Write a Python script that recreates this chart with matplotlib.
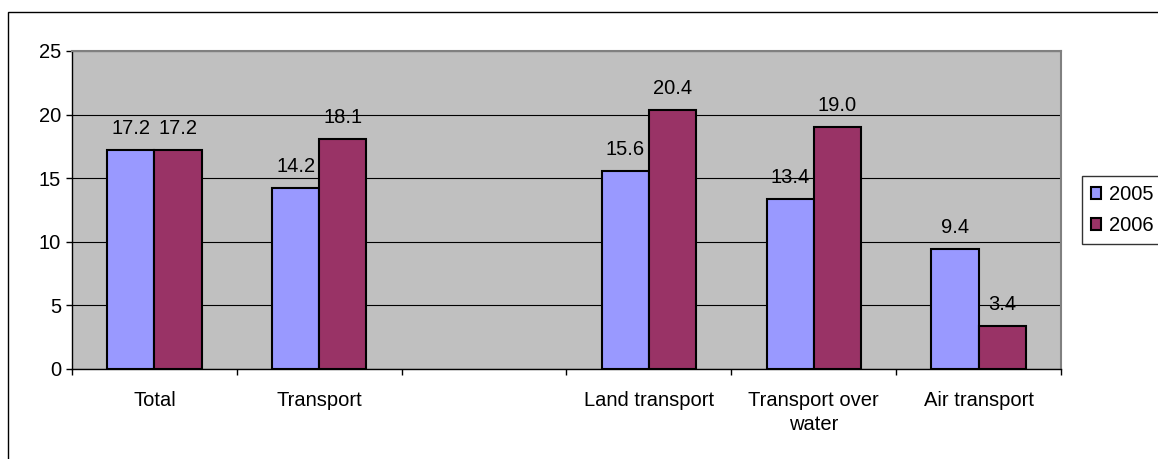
import numpy as np
import matplotlib
matplotlib.use("Agg")
import matplotlib.pyplot as plt
from matplotlib.patches import Patch, Rectangle

plt.rcParams['font.family'] = ['Liberation Sans', 'DejaVu Sans']

# growth by transport segment, one gap slot left empty between groups
categories = ['Total', 'Transport', '', 'Land transport', 'Transport over\nwater', 'Air transport']
values_2005 = [17.2, 14.2, None, 15.6, 13.4, 9.4]
values_2006 = [17.2, 18.1, None, 20.4, 19.0, 3.4]
series_names = ['2005', '2006']
series_colors = ['#9999FF', '#993366']

W, H = 1158, 459
fig = plt.figure(figsize=(W / 100, H / 100), dpi=100)
ax = fig.add_axes([72 / W, (H - 369) / H, (1061 - 72) / W, (369 - 51) / H])
ax.set_facecolor('#C0C0C0')

# outer chart frame (runs off the right and bottom edges)
fig.add_artist(Rectangle((8 / W, -0.1), 1.2, 1 - 12 / H + 0.1,
                         transform=fig.transFigure, fill=False,
                         edgecolor='black', lw=1))

x = np.arange(len(categories))
bar_w = 1 / 3.5
fs = 14.5

for k, (vals, color) in enumerate(zip([values_2005, values_2006], series_colors)):
    offset = (k - 0.5) * bar_w
    for xi, v in zip(x, vals):
        if v is None:
            continue
        ax.bar(xi + offset, v, width=bar_w, color=color, edgecolor='black',
               linewidth=1.5, zorder=3)
        ax.annotate(f'{v:.1f}', (xi + offset, v), xytext=(0, 11.5),
                    textcoords='offset points', ha='center', va='baseline',
                    fontsize=fs, zorder=4)

ax.set_xlim(-0.5, len(categories) - 0.5)
ax.set_ylim(0, 25)
ax.set_yticks(np.arange(0, 26, 5))
ax.yaxis.grid(True, color='black', linewidth=0.8, zorder=1)
ax.set_axisbelow(True)

# boundary ticks between groups, labels at group centres
ax.set_xticks(np.arange(-0.5, len(categories), 1.0))
ax.set_xticklabels([])
ax.set_xticks(x, minor=True)
ax.set_xticklabels(categories, minor=True, fontsize=fs, linespacing=1.3)
ax.tick_params(axis='x', which='major', direction='out', length=4.3, width=1)
ax.tick_params(axis='x', which='minor', length=0, pad=16)
ax.tick_params(axis='y', direction='out', length=4.3, width=1, pad=3.6, labelsize=fs)

for side in ['top', 'right']:
    ax.spines[side].set_color('#808080')
    ax.spines[side].set_linewidth(1.5)
for side in ['left', 'bottom']:
    ax.spines[side].set_color('black')
    ax.spines[side].set_linewidth(1)

handles = [Patch(facecolor=c, edgecolor='black', linewidth=1.5) for c in series_colors]
leg = ax.legend(handles, series_names, loc='upper left',
                bbox_to_anchor=(1082 / W, 1 - 176 / H), bbox_transform=fig.transFigure,
                borderaxespad=0, frameon=True, fancybox=False, fontsize=fs,
                handlelength=0.5, handleheight=0.5, handletextpad=0.4,
                labelspacing=0.6, borderpad=0.45)
leg.get_frame().set_edgecolor('black')
leg.get_frame().set_linewidth(1)

fig.savefig('out.png', dpi=100)
